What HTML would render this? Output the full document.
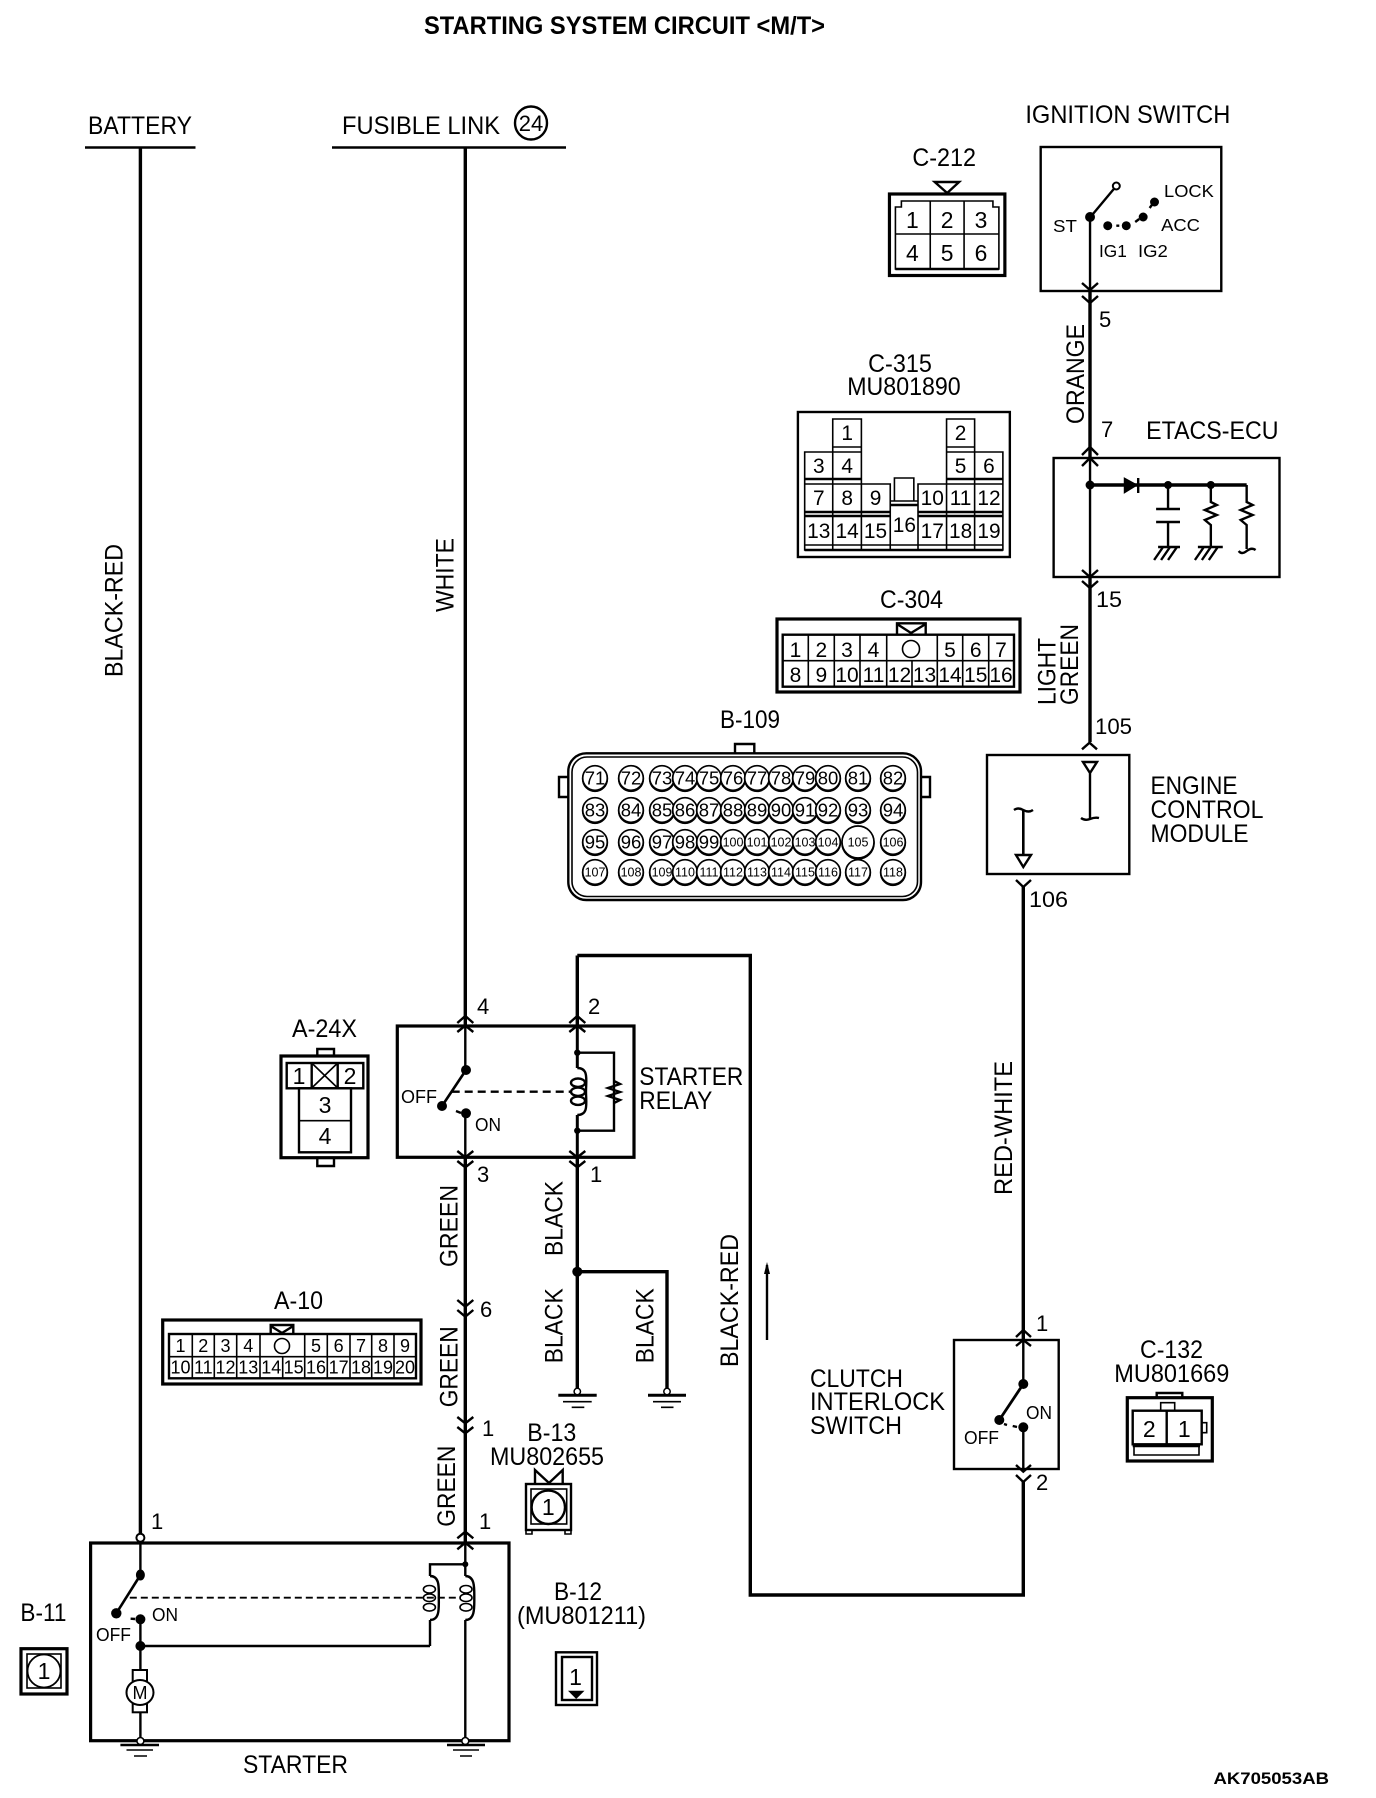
<!DOCTYPE html>
<html><head><meta charset="utf-8"><style>
html,body{margin:0;padding:0;background:#fff}
svg{display:block;font-size:25px}
text{font-family:"Liberation Sans",sans-serif;fill:#000}
.s{font-size:18px}.n{font-size:23px;text-anchor:middle}.m{font-size:19px;text-anchor:middle}.c{font-size:18.5px;text-anchor:middle}.t{font-size:12.5px;text-anchor:middle}
.w{fill:none;stroke:#000;stroke-width:3.4}.l{fill:none;stroke:#000;stroke-width:2.4}.h{fill:none;stroke:#000;stroke-width:1.6}.o{fill:none;stroke:#000;stroke-width:3.2}
.p circle{fill:#fff;stroke:#000;stroke-width:1.7;filter:drop-shadow(0 1.5px 0 #000)}
</style></head><body>
<svg xmlns="http://www.w3.org/2000/svg" width="1376" height="1798" viewBox="0 0 1376 1798">
<rect width="1376" height="1798" fill="#fff"/>
<text x="424" y="34" textLength="401" lengthAdjust="spacingAndGlyphs" style="font-weight:bold">STARTING SYSTEM CIRCUIT &lt;M/T&gt;</text>
<text x="88" y="134" textLength="104" lengthAdjust="spacingAndGlyphs">BATTERY</text>
<path class="l" d="M85 147.500H195.500M332 147.500H566"/>
<text x="342" y="134" textLength="158" lengthAdjust="spacingAndGlyphs">FUSIBLE LINK</text>
<ellipse class="l" cx="531" cy="123" rx="16" ry="16.500"/>
<text x="531" y="131" class="n" style="font-size:22px">24</text>
<path class="w" d="M140.400 147V1534M465.300 147V1026M465.300 1157V1544M577.300 955.500V1026M577.300 1157V1388M577.300 1271.700H667V1388M577.300 955.500H750.300V1595H1023.300V1482M1023.300 1340V887M1090 290V458M1090 577V742"/>
<circle cx="577.300" cy="1271.700" r="5"/>
<g>
<text transform="translate(122.500 677) rotate(-90)" textLength="133" lengthAdjust="spacingAndGlyphs">BLACK-RED</text>
<text transform="translate(453.500 612) rotate(-90)" textLength="74" lengthAdjust="spacingAndGlyphs">WHITE</text>
<text transform="translate(457.700 1267) rotate(-90)" textLength="82" lengthAdjust="spacingAndGlyphs">GREEN</text>
<text transform="translate(457.700 1407.300) rotate(-90)" textLength="81" lengthAdjust="spacingAndGlyphs">GREEN</text>
<text transform="translate(455 1526.700) rotate(-90)" textLength="81" lengthAdjust="spacingAndGlyphs">GREEN</text>
<text transform="translate(562.300 1256) rotate(-90)" textLength="75" lengthAdjust="spacingAndGlyphs">BLACK</text>
<text transform="translate(562.300 1363.300) rotate(-90)" textLength="75" lengthAdjust="spacingAndGlyphs">BLACK</text>
<text transform="translate(653.500 1363.300) rotate(-90)" textLength="75" lengthAdjust="spacingAndGlyphs">BLACK</text>
<text transform="translate(738 1367) rotate(-90)" textLength="133" lengthAdjust="spacingAndGlyphs">BLACK-RED</text>
<text transform="translate(1012 1195) rotate(-90)" textLength="134" lengthAdjust="spacingAndGlyphs">RED-WHITE</text>
<text transform="translate(1084.200 424) rotate(-90)" textLength="100" lengthAdjust="spacingAndGlyphs">ORANGE</text>
<text transform="translate(1055.500 705) rotate(-90)" textLength="67" lengthAdjust="spacingAndGlyphs">LIGHT</text>
<text transform="translate(1078 705) rotate(-90)" textLength="81" lengthAdjust="spacingAndGlyphs">GREEN</text>
</g>
<!-- chevrons -->
<path fill="none" stroke="#000" stroke-width="2.400" d="M1082 283L1090 290L1098 283M1082 296L1090 303L1098 296M1082 570L1090 577L1098 570M1082 581L1090 588L1098 581M457.300 1151L465.300 1157.300L473.300 1151M457.300 1161L465.300 1167.300L473.300 1161M569.300 1151L577.300 1157.300L585.300 1151M569.300 1161L577.300 1167.300L585.300 1161M457.300 1300L465.300 1306.700L473.300 1300M457.300 1310L465.300 1316.700L473.300 1310M457.300 1417L465.300 1423.300L473.300 1417M457.300 1427L465.300 1433.300L473.300 1427M1016 1465L1023.300 1471.700L1031 1465M1016 1475L1023.300 1482L1031 1475M1016 880L1023.300 887L1031 880M1082 455L1090 447L1098 455M1082 466L1090 458L1098 466M457.300 1023L465.300 1016L473.300 1023M457.300 1032L465.300 1025.700L473.300 1032M569.300 1023L577.300 1016L585.300 1023M569.300 1032L577.300 1025.700L585.300 1032M457.300 1538.300L465.300 1531.700L473.300 1538.300M457.300 1549.300L465.300 1542.700L473.300 1549.300M1016 1337L1023.300 1330L1031 1337M1016 1346L1023.300 1340L1031 1346M1082 749.300L1089.500 742.700L1097 749.300"/>
<!-- pin numbers -->
<g style="font-size:22px">
<text x="1099" y="327">5</text><text x="1101" y="437">7</text><text x="1096" y="607" textLength="26" lengthAdjust="spacingAndGlyphs">15</text><text x="1095" y="734" textLength="37" lengthAdjust="spacingAndGlyphs">105</text><text x="1029" y="907" textLength="39" lengthAdjust="spacingAndGlyphs">106</text>
<text x="477" y="1014">4</text><text x="588" y="1014">2</text><text x="477" y="1182">3</text><text x="590" y="1182">1</text><text x="480" y="1317">6</text><text x="482" y="1436">1</text><text x="479" y="1529">1</text><text x="151" y="1529">1</text><text x="1036" y="1331">1</text><text x="1036" y="1490">2</text>
</g>
<!-- arrow -->
<path fill="none" stroke="#000" stroke-width="2.400" d="M767 1265V1340"/><path d="M767 1262L764 1274H770Z"/>
<g transform="translate(780 0) scale(.995 1) translate(-780 0)">
<!-- Ignition switch -->
<text x="1026.600" y="123" textLength="206" lengthAdjust="spacingAndGlyphs">IGNITION SWITCH</text>
<rect class="l" x="1042" y="147" width="181.500" height="144"/>
<path class="l" d="M1091.600 217V291M1118 186L1092 217M1118 225.700H1121M1137 222L1141 219M1151.500 208L1153.700 205"/>
<circle cx="1091.600" cy="217" r="5"/><circle cx="1109.400" cy="225.700" r="4.500"/><circle cx="1128" cy="225.700" r="4.500"/><circle cx="1145" cy="217" r="4.500"/><circle cx="1156.400" cy="202" r="4.500"/>
<circle cx="1118" cy="186" r="3.500" fill="#fff" stroke="#000" stroke-width="2"/>
<text class="s" x="1166" y="197" textLength="50" lengthAdjust="spacingAndGlyphs">LOCK</text><text class="s" x="1163" y="231" textLength="39" lengthAdjust="spacingAndGlyphs">ACC</text><text class="s" x="1054.400" y="232" textLength="24" lengthAdjust="spacingAndGlyphs">ST</text><text class="s" x="1100.600" y="257" textLength="28" lengthAdjust="spacingAndGlyphs">IG1</text><text class="s" x="1139.800" y="257" textLength="30" lengthAdjust="spacingAndGlyphs">IG2</text>
<!-- C-212 -->
<text x="913" y="166" textLength="64" lengthAdjust="spacingAndGlyphs">C-212</text>
<rect class="o" x="890" y="194" width="116" height="81.500"/>
<path class="l" d="M935.500 182H960L948 193Z"/>
<path class="h" d="M896 269V207H902V201H994V207H1000V269ZM896 234H1000M931 201V269M965 201V269"/>
<path class="l" d="M896 269H1000"/>
<g class="n"><text x="913" y="228">1</text><text x="948" y="228">2</text><text x="982" y="228">3</text><text x="913" y="261">4</text><text x="948" y="261">5</text><text x="982" y="261">6</text></g>
<!-- C-315 -->
<text x="868.600" y="372" textLength="64" lengthAdjust="spacingAndGlyphs">C-315</text>
<text x="847.600" y="395" textLength="114" lengthAdjust="spacingAndGlyphs">MU801890</text>
<rect class="l" x="798" y="412" width="213" height="145"/>
<path class="h" d="M833 419H861.800V452H833ZM947.400 419H975.600V452H947.400ZM804.800 452H861.800V484H804.800ZM833 452V484M947.400 452H1004V484H947.400ZM975.600 452V484M804.800 484H890.800V550H804.800ZM833 484V550M861.800 484V550M918.700 484H1004V550H918.700ZM947.400 484V550M975.600 484V550M890.800 501H918.700V550H890.800ZM895 478H914.500V501H895ZM833 447H861.800M947.400 447H975.600M804.800 545H890.800M890.800 545H918.700M918.700 545H1004"/>
<path class="l" d="M804.800 479H861.800M947.400 479H1004M804.800 512H890.800M918.700 512H1004M804.800 516H890.800M918.700 516H1004M890.800 505H918.700M804.800 550H1004"/>
<g class="n" style="font-size:21px"><text x="847.500" y="440">1</text><text x="961.500" y="440">2</text><text x="819" y="473">3</text><text x="847.500" y="473">4</text><text x="961.500" y="473">5</text><text x="990" y="473">6</text><text x="819" y="505">7</text><text x="847.500" y="505">8</text><text x="876" y="505">9</text><text x="933" y="505">10</text><text x="961.500" y="505">11</text><text x="990" y="505">12</text><text x="819" y="538">13</text><text x="847.500" y="538">14</text><text x="876" y="538">15</text><text x="905" y="532">16</text><text x="933" y="538">17</text><text x="961.500" y="538">18</text><text x="990" y="538">19</text></g>
<!-- ETACS -->
<text x="1148" y="439" textLength="133" lengthAdjust="spacingAndGlyphs">ETACS-ECU</text>
<rect class="l" x="1055" y="458" width="227" height="119"/>
<path class="l" d="M1091.600 458V577"/>
<path class="w" d="M1091 485H1249"/>
<circle cx="1091.600" cy="485" r="4.500"/><circle cx="1170" cy="485" r="4"/><circle cx="1213" cy="485" r="4"/>
<path d="M1126 478V493L1139 485Z" stroke="#000"/><path class="l" d="M1140 478V493"/>
<path class="l" d="M1170 485V509M1158 509H1182M1158 522H1182M1170 522V547M1160 547H1182M1165 547L1156 560M1172 547L1163 560M1179 547L1170 560"/>
<path class="l" d="M1213 485V502L1219 505L1207 510L1219 515L1207 520L1213 525V547M1200 547H1225M1206 547L1197 560M1213 547L1204 560M1220 547L1211 560"/>
<path class="l" d="M1249 485V502L1255 505L1243 510L1255 515L1243 520L1249 525V549M1241 551Q1244 555 1249 551T1258 550"/>
</g>
<!-- C-304 -->
<text x="880" y="608" textLength="63" lengthAdjust="spacingAndGlyphs">C-304</text>
<rect class="o" x="777" y="619" width="243" height="73"/>
<path class="l" d="M897 634.700V623.300H925.700V634.700M897 624L911 633L925.700 624"/>
<rect class="l" x="782.700" y="634.700" width="231.300" height="52"/>
<path class="h" d="M782.700 660.700H1014M808.300 634.700V686.700M834.300 634.700V686.700M860 634.700V686.700M886.700 634.700V686.700M912 660.700V686.700M937.300 634.700V686.700M962.700 634.700V686.700M988.700 634.700V686.700"/>
<circle class="h" cx="911" cy="649" r="8.500"/>
<g class="m" style="font-size:21px"><text x="795.500" y="657">1</text><text x="821.300" y="657">2</text><text x="847" y="657">3</text><text x="873.500" y="657">4</text><text x="950" y="657">5</text><text x="975.700" y="657">6</text><text x="1001" y="657">7</text>
<text x="795.500" y="682">8</text><text x="821.300" y="682">9</text><text x="847" y="682">10</text><text x="873.500" y="682">11</text><text x="899.500" y="682">12</text><text x="924.500" y="682">13</text><text x="950" y="682">14</text><text x="975.700" y="682">15</text><text x="1001" y="682">16</text></g>
<!-- B-109 -->
<text x="720" y="728" textLength="60" lengthAdjust="spacingAndGlyphs">B-109</text>
<path class="l" d="M735 753V744H754.300V753M568 777H559V797H568M921 777H930V797H921"/>
<rect class="l" x="568.300" y="753.300" width="352.700" height="146.700" rx="18"/>
<rect class="h" x="572" y="757" width="345.500" height="139.500" rx="15"/>
<g class="p">
<circle cx="595" cy="778" r="12.300"/><circle cx="631" cy="778" r="12.300"/><circle cx="662" cy="778" r="12.300"/><circle cx="685" cy="778" r="12.300"/><circle cx="709" cy="778" r="12.300"/><circle cx="733" cy="778" r="12.300"/><circle cx="757" cy="778" r="12.300"/><circle cx="781" cy="778" r="12.300"/><circle cx="805" cy="778" r="12.300"/><circle cx="828" cy="778" r="12.300"/><circle cx="858" cy="778" r="12.300"/><circle cx="893" cy="778" r="12.300"/>
<circle cx="595" cy="810" r="12.300"/><circle cx="631" cy="810" r="12.300"/><circle cx="662" cy="810" r="12.300"/><circle cx="685" cy="810" r="12.300"/><circle cx="709" cy="810" r="12.300"/><circle cx="733" cy="810" r="12.300"/><circle cx="757" cy="810" r="12.300"/><circle cx="781" cy="810" r="12.300"/><circle cx="805" cy="810" r="12.300"/><circle cx="828" cy="810" r="12.300"/><circle cx="858" cy="810" r="12.300"/><circle cx="893" cy="810" r="12.300"/>
<circle cx="595" cy="842" r="12.300"/><circle cx="631" cy="842" r="12.300"/><circle cx="662" cy="842" r="12.300"/><circle cx="685" cy="842" r="12.300"/><circle cx="709" cy="842" r="12.300"/><circle cx="733" cy="842" r="12.300"/><circle cx="757" cy="842" r="12.300"/><circle cx="781" cy="842" r="12.300"/><circle cx="805" cy="842" r="12.300"/><circle cx="828" cy="842" r="12.300"/><circle cx="858" cy="842" r="16"/><circle cx="893" cy="842" r="12.300"/>
<circle cx="595" cy="872" r="12.300"/><circle cx="631" cy="872" r="12.300"/><circle cx="662" cy="872" r="12.300"/><circle cx="685" cy="872" r="12.300"/><circle cx="709" cy="872" r="12.300"/><circle cx="733" cy="872" r="12.300"/><circle cx="757" cy="872" r="12.300"/><circle cx="781" cy="872" r="12.300"/><circle cx="805" cy="872" r="12.300"/><circle cx="828" cy="872" r="12.300"/><circle cx="858" cy="872" r="12.300"/><circle cx="893" cy="872" r="12.300"/>
</g>
<g class="c"><text x="595" y="784.500">71</text><text x="631" y="784.500">72</text><text x="662" y="784.500">73</text><text x="685" y="784.500">74</text><text x="709" y="784.500">75</text><text x="733" y="784.500">76</text><text x="757" y="784.500">77</text><text x="781" y="784.500">78</text><text x="805" y="784.500">79</text><text x="828" y="784.500">80</text><text x="858" y="784.500">81</text><text x="893" y="784.500">82</text>
<text x="595" y="816.500">83</text><text x="631" y="816.500">84</text><text x="662" y="816.500">85</text><text x="685" y="816.500">86</text><text x="709" y="816.500">87</text><text x="733" y="816.500">88</text><text x="757" y="816.500">89</text><text x="781" y="816.500">90</text><text x="805" y="816.500">91</text><text x="828" y="816.500">92</text><text x="858" y="816.500">93</text><text x="893" y="816.500">94</text>
<text x="595" y="848.500">95</text><text x="631" y="848.500">96</text><text x="662" y="848.500">97</text><text x="685" y="848.500">98</text><text x="709" y="848.500">99</text></g>
<g class="t"><text x="733" y="846.500">100</text><text x="757" y="846.500">101</text><text x="781" y="846.500">102</text><text x="805" y="846.500">103</text><text x="828" y="846.500">104</text><text x="858" y="846.500">105</text><text x="893" y="846.500">106</text>
<text x="595" y="876.500">107</text><text x="631" y="876.500">108</text><text x="662" y="876.500">109</text><text x="685" y="876.500">110</text><text x="709" y="876.500">111</text><text x="733" y="876.500">112</text><text x="757" y="876.500">113</text><text x="781" y="876.500">114</text><text x="805" y="876.500">115</text><text x="828" y="876.500">116</text><text x="858" y="876.500">117</text><text x="893" y="876.500">118</text></g>
<!-- ECM -->
<rect class="l" x="987" y="755" width="142.300" height="119"/>
<text x="1150.500" y="794" textLength="87" lengthAdjust="spacingAndGlyphs">ENGINE</text><text x="1150.500" y="818" textLength="113" lengthAdjust="spacingAndGlyphs">CONTROL</text><text x="1150.500" y="842" textLength="98" lengthAdjust="spacingAndGlyphs">MODULE</text>
<path class="l" d="M1083 762H1097L1090 773ZM1090 773V818M1081 818Q1085 821 1090 819T1099 818"/>
<path class="w" d="M1023.300 810V855" style="stroke-width:2.600"/>
<path class="l" d="M1014 810Q1018 807 1023.300 810T1033 810M1016 855H1031L1023.300 867Z"/>
<!-- Relay -->
<text x="292" y="1037" textLength="65" lengthAdjust="spacingAndGlyphs">A-24X</text>
<rect class="o" x="281" y="1056" width="87" height="101.700"/>
<path class="l" d="M317.300 1056V1049H334V1056M317.300 1158V1166H334V1158"/>
<rect class="l" x="286.700" y="1063" width="76.600" height="25.300"/>
<path class="l" d="M311.700 1063V1088M337.700 1063V1088"/><path class="h" d="M311.700 1063L337.700 1088M337.700 1063L311.700 1088"/>
<rect class="l" x="299" y="1088.300" width="52" height="64"/><path class="h" d="M299 1120.700H351"/>
<g class="n"><text x="299" y="1084">1</text><text x="350" y="1084">2</text><text x="325" y="1113">3</text><text x="325" y="1144">4</text></g>
<rect class="o" x="397.300" y="1026" width="236.700" height="131.300"/>
<path class="l" d="M465.300 1026V1070M465.300 1113V1157M456 1111L461 1113"/>
<path class="w" d="M442 1106L466 1070" style="stroke-width:2.600"/>
<circle cx="466" cy="1070" r="5"/><circle cx="466" cy="1113.300" r="5"/><circle cx="442" cy="1106" r="5"/>
<path fill="none" stroke="#000" stroke-width="2.400" stroke-dasharray="8 5" d="M451.700 1091.700H570"/>
<text class="s" x="401" y="1103" textLength="36" lengthAdjust="spacingAndGlyphs">OFF</text><text class="s" x="475" y="1131" textLength="26" lengthAdjust="spacingAndGlyphs">ON</text>
<path class="w" d="M577.300 1026V1068M577.300 1115V1157" style="stroke-width:3"/>
<path class="l" d="M577.300 1052.700H614V1130.700H577.300M577.300 1068C589 1068 586 1080 586 1091.700C586 1103 589 1115 577.300 1115M614 1052V1081L620 1084L608 1088L620 1092L608 1096L620 1100L614 1103V1130"/>
<ellipse class="l" cx="578" cy="1082.700" rx="7" ry="4.200"/><ellipse class="l" cx="578" cy="1091.700" rx="7" ry="4.200"/><ellipse class="l" cx="578" cy="1100.700" rx="7" ry="4.200"/>
<circle cx="577.300" cy="1052.700" r="3.200"/><circle cx="577.300" cy="1130.700" r="3.200"/>
<text x="639.300" y="1085" textLength="104" lengthAdjust="spacingAndGlyphs">STARTER</text><text x="639.300" y="1109" textLength="73" lengthAdjust="spacingAndGlyphs">RELAY</text>
<!-- Grounds -->
<path fill="none" stroke="#000" stroke-width="3" d="M558.300 1395.300H596.700M648 1395.300H686"/>
<path class="h" d="M563 1401.700H591.700M571.700 1407.300H584.300M653 1401.700H681M661 1407.300H673.500"/>
<circle cx="577.300" cy="1391.500" r="3.200" fill="#fff" stroke="#000" stroke-width="1.500"/><circle cx="667" cy="1391.500" r="3.200" fill="#fff" stroke="#000" stroke-width="1.500"/>
<!-- A-10 -->
<text x="274" y="1309" textLength="49" lengthAdjust="spacingAndGlyphs">A-10</text>
<rect class="o" x="162.700" y="1320" width="258.300" height="64"/>
<path class="l" d="M270.700 1334V1325H293.300V1334M270.700 1326L282 1333L293.300 1326"/>
<rect class="l" x="169" y="1334" width="247" height="44.300"/>
<path class="h" d="M169 1356.700H416M192.300 1334V1378M214.300 1334V1378M236.700 1334V1378M260 1334V1378M282.700 1356.700V1378M304.700 1334V1378M327.300 1334V1378M350 1334V1378M371.700 1334V1378M394 1334V1378"/>
<circle class="h" cx="282" cy="1346" r="7.500"/>
<g class="m" style="font-size:18px"><text x="180.500" y="1352">1</text><text x="203.300" y="1352">2</text><text x="225.500" y="1352">3</text><text x="248.300" y="1352">4</text><text x="316" y="1352">5</text><text x="338.600" y="1352">6</text><text x="361" y="1352">7</text><text x="383" y="1352">8</text><text x="405" y="1352">9</text>
<text x="180.500" y="1373.500">10</text><text x="203.300" y="1373.500">11</text><text x="225.500" y="1373.500">12</text><text x="248.300" y="1373.500">13</text><text x="271.300" y="1373.500">14</text><text x="293.700" y="1373.500">15</text><text x="316" y="1373.500">16</text><text x="338.600" y="1373.500">17</text><text x="361" y="1373.500">18</text><text x="383" y="1373.500">19</text><text x="405" y="1373.500">20</text></g>
<!-- B-13 -->
<text x="527.300" y="1441" textLength="49" lengthAdjust="spacingAndGlyphs">B-13</text><text x="490" y="1465" textLength="114" lengthAdjust="spacingAndGlyphs">MU802655</text>
<path class="l" d="M535 1484V1470L549 1483L562.700 1470V1484"/>
<rect class="l" x="526" y="1484" width="45" height="46"/><rect class="h" x="531" y="1489" width="35.700" height="35"/>
<path class="h" d="M526 1530V1534H532V1530M565 1530V1534H571V1530"/>
<circle cx="548.300" cy="1507.300" r="16.700" fill="#fff" stroke="#000" stroke-width="2.400"/>
<text class="n" x="548.300" y="1515">1</text>
<!-- Clutch -->
<text x="810" y="1387" textLength="93" lengthAdjust="spacingAndGlyphs">CLUTCH</text><text x="810" y="1410" textLength="135" lengthAdjust="spacingAndGlyphs">INTERLOCK</text><text x="810" y="1434" textLength="92" lengthAdjust="spacingAndGlyphs">SWITCH</text>
<rect class="l" x="954" y="1340" width="104.700" height="129"/>
<path class="l" d="M1023.300 1340V1384M1023.300 1427V1469M1012.700 1426L1017 1427M1004 1424L1007 1425"/>
<path class="w" d="M999.300 1420L1023.300 1384" style="stroke-width:2.800"/>
<circle cx="1023.300" cy="1384" r="5"/><circle cx="1023.300" cy="1427.300" r="5"/><circle cx="999.300" cy="1420" r="5"/>
<text class="s" x="1026" y="1419" textLength="26" lengthAdjust="spacingAndGlyphs">ON</text><text class="s" x="964" y="1444" textLength="35" lengthAdjust="spacingAndGlyphs">OFF</text>
<!-- C-132 -->
<text x="1140" y="1358" textLength="63" lengthAdjust="spacingAndGlyphs">C-132</text><text x="1114.300" y="1382" textLength="115" lengthAdjust="spacingAndGlyphs">MU801669</text>
<rect class="o" x="1127.300" y="1397.700" width="85" height="63.300"/>
<path class="l" d="M1156.700 1397V1393H1182.300V1397"/>
<rect class="l" x="1132.700" y="1410.700" width="69" height="33.600"/>
<path class="l" d="M1166.700 1410.700V1444M1132.700 1446H1200"/>
<path class="h" d="M1160.700 1410.700V1402.700H1174.700V1410.700M1201.700 1422.700H1206.700V1432.700H1201.700M1134 1446V1455H1199V1446"/>
<g class="n"><text x="1149.300" y="1437">2</text><text x="1184.300" y="1437">1</text></g>
<!-- Starter -->
<rect class="o" x="90.600" y="1543" width="418.400" height="197.700"/>
<circle cx="140.400" cy="1537.700" r="4" fill="#fff" stroke="#000" stroke-width="2"/>
<path class="l" d="M140.400 1542V1575M140.400 1619V1741M465.300 1544V1576M465.300 1620V1741M130.600 1618.700L135 1619M430 1646V1620M430 1576V1564.300H465.300M430 1576C440 1576 438.800 1588 438.800 1598C438.800 1608 440 1620 430 1620M465.300 1576C475 1576 474.300 1588 474.300 1598C474.300 1608 475 1620 465.300 1620"/>
<path class="l" d="M140.400 1646H430"/>
<path class="w" d="M116.300 1613.300L140.400 1575" style="stroke-width:2.600"/>
<ellipse cx="140.400" cy="1575" rx="4.500" ry="5.500"/><circle cx="116.300" cy="1613.300" r="5.200"/><circle cx="140.400" cy="1619.300" r="5"/><circle cx="140.400" cy="1646" r="5"/><circle cx="465.300" cy="1564.300" r="3"/>
<path fill="none" stroke="#000" stroke-width="1.900" stroke-dasharray="7 4" d="M129.800 1597.700H461"/>
<g><ellipse class="h" cx="429.400" cy="1589.300" rx="6" ry="3.800"/><ellipse class="h" cx="429.400" cy="1597.700" rx="6" ry="3.800"/><ellipse class="h" cx="429.400" cy="1607.300" rx="6" ry="3.800"/><ellipse class="h" cx="466" cy="1589.300" rx="6" ry="3.800"/><ellipse class="h" cx="466" cy="1597.700" rx="6" ry="3.800"/><ellipse class="h" cx="466" cy="1607.300" rx="6" ry="3.800"/></g>
<text class="s" x="96" y="1641" textLength="35" lengthAdjust="spacingAndGlyphs">OFF</text><text class="s" x="152" y="1621" textLength="26" lengthAdjust="spacingAndGlyphs">ON</text>
<rect x="132.700" y="1670" width="14.300" height="42.300" fill="#fff" stroke="#000" stroke-width="2"/>
<ellipse cx="140" cy="1692.500" rx="13.500" ry="12.500" fill="#fff" stroke="#000" stroke-width="2"/>
<text x="140" y="1699" style="font-size:18px;text-anchor:middle">M</text>
<circle cx="140.400" cy="1741" r="3.500" fill="#fff" stroke="#000" stroke-width="1.600"/><circle cx="465.300" cy="1741" r="3.500" fill="#fff" stroke="#000" stroke-width="1.600"/>
<path class="l" d="M120.400 1745H159M447 1745H485"/>
<path class="h" d="M126.500 1750H153M453 1750H479M134 1756H147M460 1756H472"/>
<text x="243" y="1773" textLength="105" lengthAdjust="spacingAndGlyphs">STARTER</text>
<text x="20.400" y="1621" textLength="46" lengthAdjust="spacingAndGlyphs">B-11</text>
<rect class="o" x="21" y="1648.700" width="46" height="45.300"/><rect class="h" x="27" y="1654" width="34" height="34"/>
<circle cx="44" cy="1671" r="16.500" fill="#fff" stroke="#000" stroke-width="1.800"/><text class="n" x="44" y="1679">1</text>
<text x="554" y="1600" textLength="48" lengthAdjust="spacingAndGlyphs">B-12</text><text x="517" y="1624" textLength="129" lengthAdjust="spacingAndGlyphs">(MU801211)</text>
<rect class="l" x="556" y="1652.300" width="41" height="52.700"/><rect class="l" x="562" y="1657" width="30" height="43"/>
<text class="n" x="575.500" y="1685">1</text><path d="M568 1690.700H584.500L576.200 1699Z"/>
<text x="1213.500" y="1784" textLength="115.500" lengthAdjust="spacingAndGlyphs" style="font-size:17px;font-weight:bold">AK705053AB</text>
</svg>
</body></html>
